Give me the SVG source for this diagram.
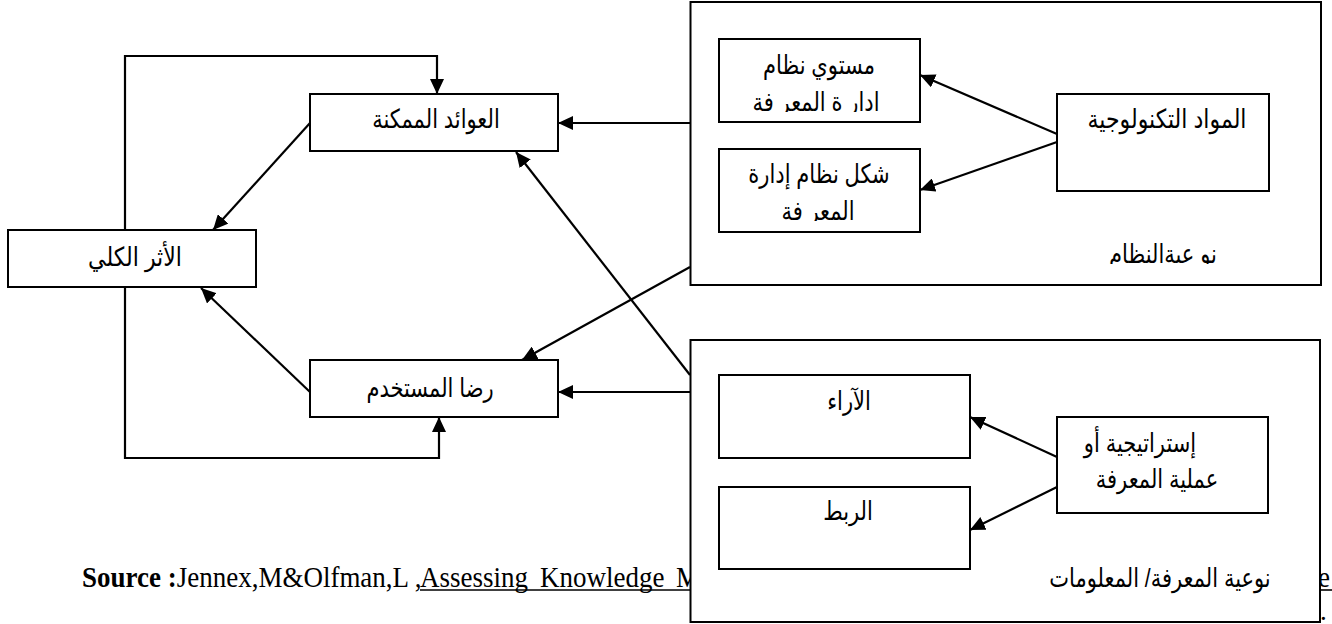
<svg xmlns="http://www.w3.org/2000/svg" width="1332" height="624" viewBox="0 0 1332 624">
<style>
.box{fill:#fff;stroke:#000;stroke-width:2}
.ar{font-family:"Liberation Sans","DejaVu Sans",sans-serif;font-size:21px;fill:#000;text-anchor:middle}
.ln{fill:none;stroke:#000;stroke-width:2.2}
.src{font-family:"Liberation Serif",serif;font-size:27px;fill:#000}
.ul{stroke:#000;stroke-width:1.6}
</style>
<defs>
<marker id="ah" markerUnits="userSpaceOnUse" markerWidth="15" markerHeight="14" refX="15" refY="7" orient="auto">
<path d="M0,0 L15,7 L0,14 z" fill="#000"/>
</marker>
<clipPath id="c1"><rect x="700" y="84" width="210" height="28"/></clipPath>
<clipPath id="c2"><rect x="700" y="194" width="210" height="27"/></clipPath>
<clipPath id="c3"><rect x="1090" y="238" width="140" height="26"/></clipPath>
</defs>
<g id="source">
<text class="src" transform="translate(0,587) scale(1,1.12)"><tspan x="82" font-weight="bold">Source :</tspan><tspan>Jennex,M&amp;Olfman,L ,</tspan><tspan x="420">Assessing</tspan><tspan x="540">Knowledge</tspan><tspan x="676">M</tspan></text>
<line class="ul" x1="420" y1="590" x2="691" y2="590"/>
<text class="src" transform="translate(1318,587) scale(1,1.12)">e</text>
<line class="ul" x1="1318" y1="590" x2="1332" y2="590"/>
<text class="src" x="1320" y="620">.</text>
</g>
<g id="system-quality">
<rect class="box" x="690.5" y="2" width="630.5" height="283"/>
<g clip-path="url(#c3)"><text class="ar" transform="translate(1163,263) scale(1,1.25)">نو عيةالنظام</text></g>
</g>
<g id="knowledge-quality">
<rect class="box" x="690.5" y="340" width="629.5" height="282"/>
<text class="ar" transform="translate(1160,587) scale(1,1.25)">نوعية المعرفة/ المعلومات</text>
</g>
<g id="km-level">
<rect class="box" x="719" y="39" width="201" height="83"/>
<text class="ar" transform="translate(819,74) scale(1,1.25)">مستوي نظام</text>
<g clip-path="url(#c1)"><text class="ar" transform="translate(816,111) scale(1,1.25)">ادار ة المعر فة</text></g>
</g>
<g id="km-form">
<rect class="box" x="719" y="149" width="201" height="83"/>
<text class="ar" transform="translate(819,183) scale(1,1.25)">شكل نظام إدارة</text>
<g clip-path="url(#c2)"><text class="ar" transform="translate(818,220) scale(1,1.25)">المعر فة</text></g>
</g>
<g id="tech">
<rect class="box" x="1057" y="94" width="212" height="97"/>
<text class="ar" transform="translate(1167,128) scale(1.05,1.25)">المواد التكنولوجية</text>
</g>
<g id="opinions">
<rect class="box" x="719" y="375" width="251" height="83"/>
<text class="ar" transform="translate(849,410) scale(1,1.25)">الآراء</text>
</g>
<g id="linkage">
<rect class="box" x="719" y="487" width="251" height="82"/>
<text class="ar" transform="translate(848,520) scale(1,1.25)">الربط</text>
</g>
<g id="strategy">
<rect class="box" x="1057" y="417" width="211" height="96"/>
<text class="ar" transform="translate(1140,452) scale(1,1.25)">إستراتيجية أو</text>
<text class="ar" transform="translate(1157,488) scale(1,1.25)">عملية المعرفة</text>
</g>
<g id="benefits">
<rect class="box" x="310" y="94" width="248" height="57"/>
<text class="ar" transform="translate(436,128) scale(1,1.25)">العوائد الممكنة</text>
</g>
<g id="impact">
<rect class="box" x="8" y="230" width="248" height="57"/>
<text class="ar" transform="translate(135,266) scale(1.05,1.25)">الأثر الكلي</text>
</g>
<g id="satisfaction">
<rect class="box" x="310" y="360" width="248" height="57"/>
<text class="ar" transform="translate(430,397) scale(1,1.25)">رضا المستخدم</text>
</g>
<g id="connectors">
<polyline class="ln" points="125,230 125,56 437,56 437,94" marker-end="url(#ah)"/>
<polyline class="ln" points="125,287 125,458 439,458 439,417" marker-end="url(#ah)"/>
<line class="ln" x1="310" y1="123" x2="213" y2="230" marker-end="url(#ah)"/>
<line class="ln" x1="310" y1="392" x2="201" y2="288" marker-end="url(#ah)"/>
<line class="ln" x1="690" y1="123" x2="558" y2="123" marker-end="url(#ah)"/>
<line class="ln" x1="690" y1="392" x2="558" y2="392" marker-end="url(#ah)"/>
<line class="ln" x1="690" y1="267" x2="522" y2="360" marker-end="url(#ah)"/>
<line class="ln" x1="690" y1="375" x2="516" y2="152" marker-end="url(#ah)"/>
<line class="ln" x1="1057" y1="134" x2="920" y2="75" marker-end="url(#ah)"/>
<line class="ln" x1="1057" y1="142" x2="920" y2="190" marker-end="url(#ah)"/>
<line class="ln" x1="1057" y1="457" x2="970" y2="417" marker-end="url(#ah)"/>
<line class="ln" x1="1057" y1="487" x2="970" y2="530" marker-end="url(#ah)"/>
</g>
</svg>
